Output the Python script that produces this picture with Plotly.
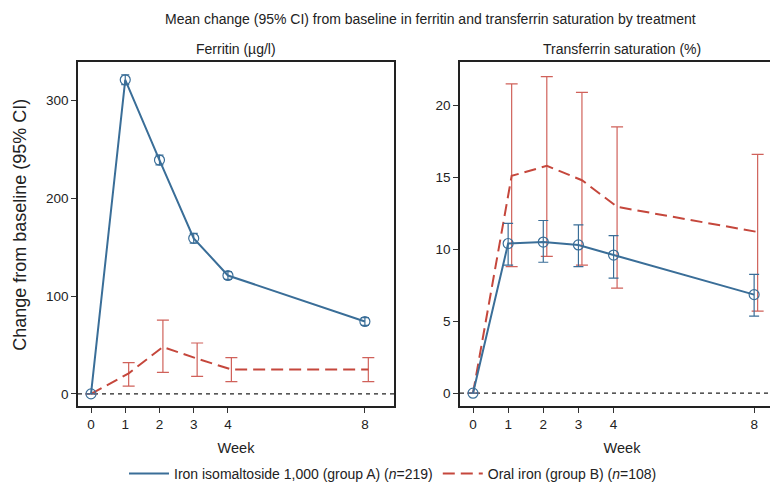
import plotly.graph_objects as go

weeks = [0, 1, 2, 3, 4, 8]
offset_b = [0, 0.1, 0.1, 0.1, 0.1, 0.1]

# Ferritin (µg/l) change from baseline
fer_a = [0, 321, 239, 159, 121, 74]
fer_a_lo = [0, 316, 234, 154, 117, 70]
fer_a_hi = [0, 326, 244, 164, 125, 78]
fer_b = [0, 21, 48, 36, 25, 25]
fer_b_lo = [0, 8, 22, 18, 12.5, 12.5]
fer_b_hi = [0, 32, 75.5, 52, 37, 37]

# Transferrin saturation (%) change from baseline
tsat_a = [0, 10.4, 10.5, 10.3, 9.6, 6.85]
tsat_a_lo = [0, 8.9, 9.1, 8.8, 8.0, 5.35]
tsat_a_hi = [0, 11.8, 12.0, 11.7, 10.95, 8.25]
tsat_b = [0, 15.1, 15.8, 14.8, 12.95, 11.2]
tsat_b_lo = [0, 8.8, 9.5, 8.9, 7.3, 5.7]
tsat_b_hi = [0, 21.5, 22.0, 20.9, 18.5, 16.6]

x_ticks = [0, 1, 2, 3, 4, 8]
fer_ticks = [0, 100, 200, 300]
tsat_ticks = [0, 5, 10, 15, 20]

label_a = "Iron isomaltoside 1,000 (group A) (<i>n</i>=219)"
label_b = "Oral iron (group B) (<i>n</i>=108)"

BLUE = "#3a6e98"
RED = "#c5473c"
RED_ERR = "#d0615a"
FONT = "Liberation Sans, Arial, sans-serif"
DASH_B = "12px,6px"

fig = go.Figure()
xb = [w + o for w, o in zip(weeks, offset_b)]

def add_panel(xa, ya, a, a_lo, a_hi, b, b_lo, b_hi, cap_a, cap_b):
    fig.add_trace(go.Scatter(
        x=xb, y=b, mode="lines", xaxis=xa, yaxis=ya,
        line=dict(color=RED, width=2, dash=DASH_B),
        error_y=dict(type="data", symmetric=False,
                     array=[h - v for h, v in zip(b_hi, b)],
                     arrayminus=[v - l for v, l in zip(b, b_lo)],
                     color=RED_ERR, thickness=1.2, width=cap_b),
        name=label_b, showlegend=False, hoverinfo="skip"))
    fig.add_trace(go.Scatter(
        x=weeks, y=a, mode="lines+markers", xaxis=xa, yaxis=ya,
        line=dict(color=BLUE, width=2),
        marker=dict(symbol="circle-open", size=10, color=BLUE, line=dict(width=1.2)),
        error_y=dict(type="data", symmetric=False,
                     array=[h - v for h, v in zip(a_hi, a)],
                     arrayminus=[v - l for v, l in zip(a, a_lo)],
                     color=BLUE, thickness=1.2, width=cap_a),
        name=label_a, showlegend=False, hoverinfo="skip"))

add_panel("x", "y", fer_a, fer_a_lo, fer_a_hi, fer_b, fer_b_lo, fer_b_hi, 4, 6)
add_panel("x2", "y2", tsat_a, tsat_a_lo, tsat_a_hi, tsat_b, tsat_b_lo, tsat_b_hi, 5, 6)

# legend-only traces
fig.add_trace(go.Scatter(x=[None], y=[None], mode="lines", name=label_a,
                         line=dict(color=BLUE, width=2), xaxis="x", yaxis="y"))
fig.add_trace(go.Scatter(x=[None], y=[None], mode="lines", name=label_b,
                         line=dict(color=RED, width=2, dash=DASH_B), xaxis="x", yaxis="y"))

W, H = 778, 482
ax_common = dict(showline=True, linecolor="#222", linewidth=1.5, mirror=True,
                 ticks="outside", ticklen=5, tickwidth=1.2, tickcolor="#333",
                 showgrid=False, zeroline=False,
                 tickfont=dict(size=13.5, color="#222", family=FONT))
xtitle = dict(text="Week", font=dict(size=14.5), standoff=12)

fig.update_layout(
    width=W, height=H, margin=dict(l=0, r=0, t=0, b=0),
    paper_bgcolor="white", plot_bgcolor="white",
    font=dict(family=FONT, color="#222"),
    xaxis=dict(domain=[70 / W, 386 / W], range=[-0.38, 8.85], tickvals=x_ticks,
               anchor="y", title=xtitle, **ax_common),
    yaxis=dict(domain=[1 - 404 / H, 1 - 55 / H], range=[-12.5, 339], tickvals=fer_ticks,
               anchor="x", **ax_common),
    xaxis2=dict(domain=[452 / W, 776 / W], range=[-0.37, 8.85], tickvals=x_ticks,
                anchor="y2", title=xtitle, **ax_common),
    yaxis2=dict(domain=[1 - 404 / H, 1 - 55 / H], range=[-0.9, 23.0], tickvals=tsat_ticks,
                anchor="x2", **ax_common),
    legend=dict(orientation="h", x=385 / W, xanchor="center", y=1 - 473 / H, yanchor="middle",
                font=dict(size=14, color="#222", family=FONT), bgcolor="rgba(0,0,0,0)",
                itemwidth=40, tracegroupgap=0),
    showlegend=True,
)

for xr, yr in (("x", "y"), ("x2", "y2")):
    fig.add_shape(type="line", xref=f"{xr} domain", yref=yr, x0=0, x1=1, y0=0, y1=0,
                  line=dict(color="#222", width=1.3, dash="4px,4px"), layer="below")

fig.add_annotation(text="Mean change (95% CI) from baseline in ferritin and transferrin saturation by treatment",
                   xref="paper", yref="paper", x=422 / W, y=1 - 11 / H, showarrow=False,
                   font=dict(size=14, color="#222"), xanchor="center", yanchor="middle")
fig.add_annotation(text="Ferritin (µg/l)", xref="paper", yref="paper", x=228 / W, y=1 - 42 / H,
                   showarrow=False, font=dict(size=14, color="#222"), xanchor="center", yanchor="middle")
fig.add_annotation(text="Transferrin saturation (%)", xref="paper", yref="paper", x=614 / W, y=1 - 42 / H,
                   showarrow=False, font=dict(size=14, color="#222"), xanchor="center", yanchor="middle")
fig.add_annotation(text="Change from baseline (95% CI)", xref="paper", yref="paper", x=0, y=1 - 220 / H,
                   showarrow=False, textangle=-90, font=dict(size=18, color="#222"),
                   xanchor="left", yanchor="middle")

fig.write_html("out.html")
